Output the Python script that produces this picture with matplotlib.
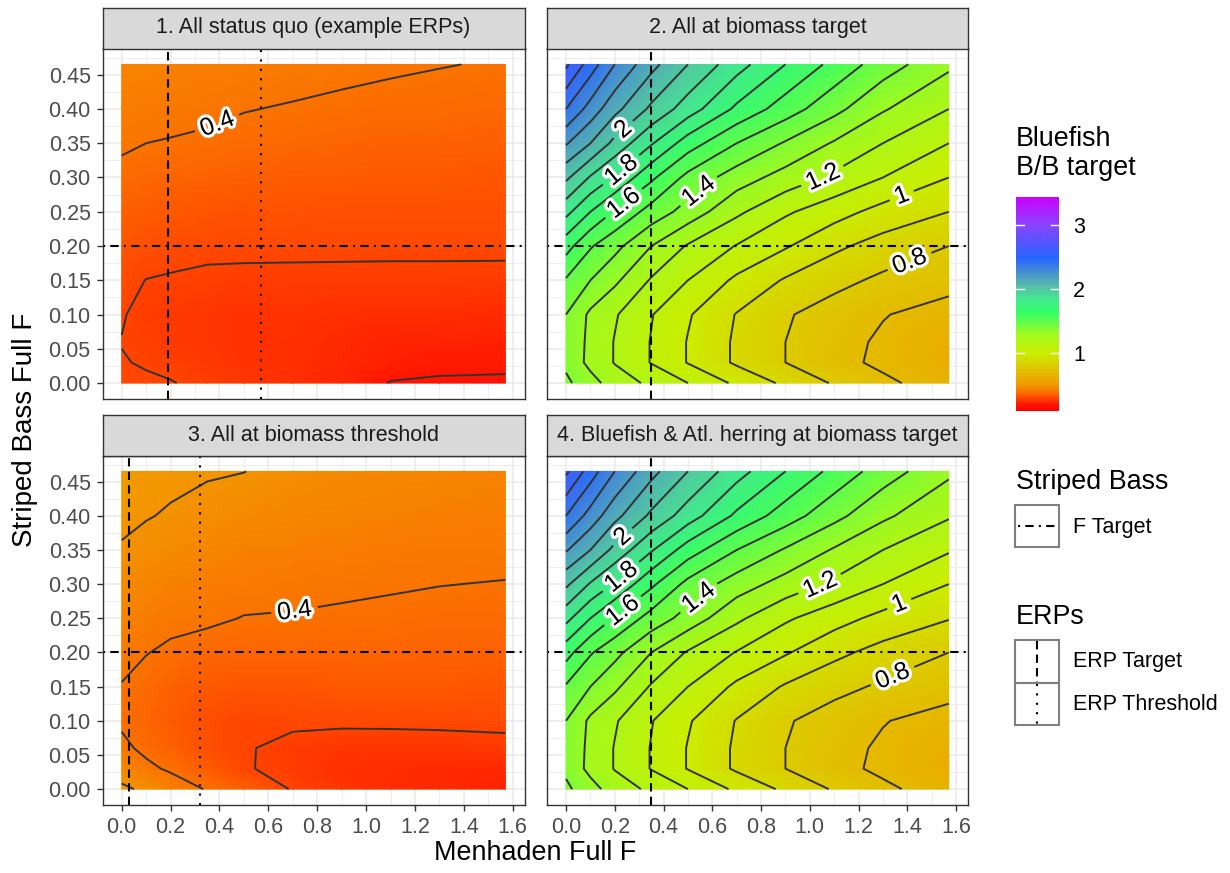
import numpy as np
import matplotlib
matplotlib.use("Agg")
import matplotlib.pyplot as plt
import matplotlib.colors as mcolors
import matplotlib.patheffects as pe
from matplotlib.ticker import MultipleLocator, FormatStrFormatter
from matplotlib.patches import Rectangle
from matplotlib.cm import ScalarMappable

plt.rcParams["font.family"] = ["Liberation Sans", "DejaVu Sans"]

# ===== data =====
MENHADEN_F = [0.0, 0.1, 0.2, 0.35, 0.5, 0.7, 0.9, 1.1, 1.3, 1.57]
STRIPED_BASS_F = [0.0, 0.03, 0.06, 0.1, 0.15, 0.2, 0.25, 0.3, 0.35, 0.4, 0.465]

PANEL_TITLES = [
    "1. All status quo (example ERPs)",
    "2. All at biomass target",
    "3. All at biomass threshold",
    "4. Bluefish & Atl. herring at biomass target",
]

# Bluefish B/B target, one row per striped bass F, one column per menhaden F
bb_status_quo = [
    [0.310, 0.305, 0.302, 0.290, 0.275, 0.260, 0.238, 0.197, 0.192, 0.190],
    [0.302, 0.297, 0.290, 0.280, 0.268, 0.256, 0.240, 0.225, 0.215, 0.213],
    [0.299, 0.290, 0.280, 0.272, 0.264, 0.256, 0.245, 0.235, 0.230, 0.228],
    [0.303, 0.288, 0.278, 0.272, 0.268, 0.264, 0.258, 0.254, 0.250, 0.248],
    [0.318, 0.299, 0.295, 0.290, 0.288, 0.287, 0.286, 0.285, 0.285, 0.284],
    [0.335, 0.325, 0.318, 0.312, 0.312, 0.312, 0.312, 0.312, 0.312, 0.312],
    [0.355, 0.350, 0.343, 0.337, 0.333, 0.330, 0.327, 0.325, 0.323, 0.321],
    [0.382, 0.375, 0.368, 0.362, 0.357, 0.352, 0.348, 0.345, 0.343, 0.340],
    [0.410, 0.400, 0.397, 0.392, 0.384, 0.375, 0.370, 0.366, 0.362, 0.358],
    [0.430, 0.420, 0.415, 0.410, 0.402, 0.396, 0.390, 0.385, 0.381, 0.377],
    [0.450, 0.445, 0.440, 0.433, 0.427, 0.420, 0.413, 0.407, 0.402, 0.396],
]
bb_all_target = [
    [1.42, 1.34, 1.25, 1.18, 1.10, 0.98, 0.88, 0.79, 0.72, 0.65],
    [1.38, 1.27, 1.195, 1.095, 0.995, 0.885, 0.80, 0.73, 0.68, 0.62],
    [1.38, 1.275, 1.195, 1.095, 0.995, 0.885, 0.80, 0.735, 0.685, 0.625],
    [1.40, 1.28, 1.21, 1.105, 1.01, 0.895, 0.81, 0.755, 0.705, 0.66],
    [1.49, 1.40, 1.32, 1.19, 1.10, 0.98, 0.89, 0.83, 0.78, 0.735],
    [1.64, 1.51, 1.43, 1.30, 1.19, 1.095, 1.01, 0.92, 0.86, 0.80],
    [1.83, 1.70, 1.59, 1.46, 1.36, 1.22, 1.115, 1.04, 0.965, 0.90],
    [2.02, 1.89, 1.79, 1.62, 1.47, 1.35, 1.26, 1.18, 1.10, 1.00],
    [2.21, 2.10, 1.97, 1.81, 1.65, 1.50, 1.39, 1.29, 1.20, 1.10],
    [2.40, 2.26, 2.13, 1.98, 1.85, 1.68, 1.55, 1.43, 1.31, 1.20],
    [2.62, 2.45, 2.30, 2.13, 2.00, 1.84, 1.70, 1.57, 1.45, 1.32],
]
bb_all_threshold = [
    [0.515, 0.485, 0.440, 0.395, 0.355, 0.295, 0.270, 0.255, 0.245, 0.235],
    [0.460, 0.415, 0.390, 0.350, 0.305, 0.283, 0.260, 0.250, 0.245, 0.240],
    [0.415, 0.385, 0.360, 0.325, 0.305, 0.285, 0.275, 0.272, 0.275, 0.278],
    [0.390, 0.370, 0.350, 0.322, 0.305, 0.310, 0.310, 0.312, 0.313, 0.318],
    [0.397, 0.380, 0.365, 0.345, 0.335, 0.340, 0.342, 0.342, 0.341, 0.340],
    [0.420, 0.402, 0.390, 0.376, 0.368, 0.370, 0.370, 0.368, 0.366, 0.364],
    [0.445, 0.430, 0.415, 0.410, 0.398, 0.396, 0.392, 0.389, 0.386, 0.383],
    [0.470, 0.455, 0.440, 0.428, 0.420, 0.415, 0.410, 0.405, 0.401, 0.398],
    [0.494, 0.483, 0.472, 0.452, 0.442, 0.435, 0.428, 0.422, 0.418, 0.414],
    [0.515, 0.503, 0.495, 0.483, 0.465, 0.455, 0.447, 0.440, 0.435, 0.430],
    [0.535, 0.520, 0.512, 0.505, 0.501, 0.480, 0.470, 0.462, 0.455, 0.450],
]
bb_bluefish_herring = [
    [1.42, 1.34, 1.25, 1.18, 1.10, 0.98, 0.88, 0.79, 0.72, 0.65],
    [1.38, 1.27, 1.195, 1.095, 0.995, 0.885, 0.80, 0.73, 0.68, 0.62],
    [1.38, 1.275, 1.195, 1.095, 0.995, 0.885, 0.80, 0.735, 0.685, 0.625],
    [1.40, 1.28, 1.21, 1.105, 1.01, 0.895, 0.81, 0.755, 0.705, 0.66],
    [1.49, 1.40, 1.32, 1.19, 1.10, 0.98, 0.89, 0.83, 0.785, 0.74],
    [1.64, 1.51, 1.43, 1.30, 1.19, 1.095, 1.01, 0.925, 0.865, 0.80],
    [1.83, 1.70, 1.59, 1.46, 1.36, 1.22, 1.115, 1.04, 0.97, 0.905],
    [2.02, 1.89, 1.79, 1.62, 1.47, 1.35, 1.26, 1.18, 1.10, 1.00],
    [2.21, 2.10, 1.97, 1.81, 1.65, 1.50, 1.39, 1.29, 1.20, 1.11],
    [2.40, 2.26, 2.13, 1.98, 1.85, 1.68, 1.55, 1.43, 1.32, 1.21],
    [2.62, 2.45, 2.30, 2.13, 2.00, 1.84, 1.70, 1.57, 1.45, 1.32],
]
PANEL_DATA = [bb_status_quo, bb_all_target, bb_all_threshold, bb_bluefish_herring]

# reference lines per panel
ERP_TARGET_F = [0.19, 0.35, 0.03, 0.35]
ERP_THRESHOLD_F = [0.57, None, 0.32, None]
SB_F_TARGET = 0.20

# contour labels per panel: (level, approx position)
LABELS = [
    [(0.4, (0.395, 0.375))],
    [(2.0, (0.235, 0.37)), (1.8, (0.228, 0.31)), (1.6, (0.235, 0.263)), (1.4, (0.55, 0.277)),
     (1.2, (1.04, 0.31)), (1.0, (1.37, 0.28)), (0.8, (1.41, 0.177))],
    [(0.4, (0.71, 0.255))],
    [(2.0, (0.235, 0.368)), (1.8, (0.228, 0.31)), (1.6, (0.235, 0.26)), (1.4, (0.55, 0.277)),
     (1.2, (1.03, 0.31)), (1.0, (1.36, 0.277)), (0.8, (1.34, 0.165))],
]
LEVELS = [round(0.1 * i, 1) for i in range(1, 35)]

# fill scale: limits and colour stops (value, colour) as seen on the colour bar
FILL_LIMITS = (0.106, 3.44)
FILL_STOPS = [
    (0.106, "#FF0000"), (0.20, "#FF1500"), (0.30, "#FF4500"), (0.40, "#FA7500"),
    (0.50, "#F39500"), (0.62, "#EAAE00"), (0.80, "#DDCB00"), (1.00, "#CCEE00"),
    (1.30, "#A0FA20"), (1.63, "#33FF66"), (1.85, "#44E890"), (2.05, "#58BBA8"),
    (2.30, "#4488D8"), (2.48, "#2466FF"), (3.00, "#8844FF"), (3.44, "#CC00FF"),
]
lo, hi = FILL_LIMITS
cmap = mcolors.LinearSegmentedColormap.from_list(
    "bluefish", [((v - lo) / (hi - lo), c) for v, c in FILL_STOPS], N=512)
norm = mcolors.Normalize(lo, hi)

# ===== figure layout (pixel boxes) =====
W, H = 1230, 873
fig = plt.figure(figsize=(W / 100, H / 100), dpi=100)


def px_axes(l, t, r, b):
    return fig.add_axes([l / W, 1 - b / H, (r - l) / W, (b - t) / H])


PANEL_BOX = [(102.5, 48.5, 524.6, 399), (546.9, 48.5, 967.9, 399),
             (102.5, 455.5, 524.6, 805), (546.9, 455.5, 967.9, 805)]
STRIP_H = 41
GRID_COL = "#EBEBEB"
DARK = "#333333"
SMALL = 15.5
BIG = 19.4

XG, YG = np.meshgrid(MENHADEN_F, STRIPED_BASS_F)
xr = max(MENHADEN_F) - min(MENHADEN_F)
yr = max(STRIPED_BASS_F) - min(STRIPED_BASS_F)

line_kw = dict(color="black", lw=1.5, zorder=4)
DASHED = (4, 2.5)
DOTTED = (1, 3.5)
DOTDASH = (1, 2.5, 4, 2.5)
contour_kw = dict(colors="#333333", linewidths=1.4, zorder=2)

for i, (l, t, r, b) in enumerate(PANEL_BOX):
    ax = px_axes(l, t, r, b)
    Z = np.array(PANEL_DATA[i])
    ax.set_xlim(min(MENHADEN_F) - 0.05 * xr, max(MENHADEN_F) + 0.05 * xr)
    ax.set_ylim(min(STRIPED_BASS_F) - 0.05 * yr, max(STRIPED_BASS_F) + 0.05 * yr)
    ax.set_axisbelow(True)
    ax.xaxis.set_major_locator(MultipleLocator(0.2))
    ax.xaxis.set_minor_locator(MultipleLocator(0.1))
    ax.yaxis.set_major_locator(MultipleLocator(0.05))
    ax.yaxis.set_minor_locator(MultipleLocator(0.025))
    ax.xaxis.set_major_formatter(FormatStrFormatter("%.1f"))
    ax.yaxis.set_major_formatter(FormatStrFormatter("%.2f"))
    ax.grid(which="major", color=GRID_COL, lw=1.2)
    ax.grid(which="minor", color=GRID_COL, lw=0.6)
    for sp in ax.spines.values():
        sp.set_color(DARK)
        sp.set_linewidth(1.0)
        sp.set_zorder(6)
    ax.tick_params(which="major", direction="out", length=4.5, width=1, color=DARK,
                   labelcolor="#4D4D4D", labelsize=SMALL, pad=4)
    ax.tick_params(which="minor", length=0)
    if i < 2:
        ax.tick_params(bottom=False, labelbottom=False)
    if i % 2 == 1:
        ax.tick_params(left=False, labelleft=False)

    ax.pcolormesh(XG, YG, Z, shading="gouraud", cmap=cmap, norm=norm, zorder=1)
    lab_levels = sorted({lv for lv, _ in LABELS[i]})
    plain_levels = [lv for lv in LEVELS if lv not in lab_levels]
    ax.contour(XG, YG, Z, levels=plain_levels, **contour_kw)
    cs_lab = ax.contour(XG, YG, Z, levels=lab_levels, **contour_kw)
    texts = cs_lab.clabel(manual=[p for _, p in LABELS[i]], inline=True,
                          inline_spacing=6, fmt="%g", fontsize=18, colors="black", zorder=7)
    for tx in texts:
        tx.set_path_effects([pe.withStroke(linewidth=4.5, foreground="white")])

    ax.axhline(SB_F_TARGET, dashes=DOTDASH, **line_kw)
    ax.axvline(ERP_TARGET_F[i], dashes=DASHED, **line_kw)
    if ERP_THRESHOLD_F[i] is not None:
        ax.axvline(ERP_THRESHOLD_F[i], dashes=DOTTED, **line_kw)

    # facet strip
    sax = px_axes(l, t - STRIP_H, r, t)
    sax.set_facecolor("#D9D9D9")
    sax.set_xticks([])
    sax.set_yticks([])
    for sp in sax.spines.values():
        sp.set_color(DARK)
        sp.set_linewidth(1.0)
    sax.text(0.5, 0.5, PANEL_TITLES[i], ha="center", va="center", fontsize=SMALL,
             color="#1A1A1A", transform=sax.transAxes)

fig.text(535 / W, 1 - 853 / H, "Menhaden Full F", ha="center", va="center", fontsize=BIG)
fig.text(25 / W, 1 - 430 / H, "Striped Bass Full F", ha="center", va="center",
         fontsize=20, rotation=90)

# ===== colour bar legend =====
cax = px_axes(1016, 196.7, 1059, 410.7)
cb = fig.colorbar(ScalarMappable(norm=norm, cmap=cmap), cax=cax, ticks=[1, 2, 3])
cb.outline.set_visible(False)
cax.tick_params(length=0, labelsize=SMALL, pad=10, labelcolor="black")
for v in (1, 2, 3):
    cax.plot([0, 0.18], [v, v], color="white", lw=1, transform=cax.get_yaxis_transform())
    cax.plot([0.82, 1], [v, v], color="white", lw=1, transform=cax.get_yaxis_transform())
fig.text(1016 / W, 1 - 126 / H, "Bluefish\nB/B target", ha="left", va="top", fontsize=BIG,
         linespacing=1.15)

# ===== line legends (pixel overlay) =====
lax = fig.add_axes([0, 0, 1, 1])
lax.set_xlim(0, W)
lax.set_ylim(H, 0)
lax.axis("off")
lax.patch.set_alpha(0)

lax.text(1016, 482, "Striped Bass", ha="left", va="center", fontsize=BIG)
lax.add_patch(Rectangle((1015, 505), 44, 42, fill=False, ec="#7F7F7F", lw=1.5))
lax.plot([1018, 1056], [526, 526], color="black", lw=1.5, dashes=DOTDASH)
lax.text(1073, 527, "F Target", ha="left", va="center", fontsize=SMALL)

lax.text(1016, 617, "ERPs", ha="left", va="center", fontsize=BIG)
lax.add_patch(Rectangle((1015, 640), 44, 43, fill=False, ec="#7F7F7F", lw=1.5))
lax.add_patch(Rectangle((1015, 683), 44, 42, fill=False, ec="#7F7F7F", lw=1.5))
lax.plot([1037, 1037], [641, 682], color="black", lw=1.5, dashes=DASHED)
lax.plot([1037, 1037], [684, 724], color="black", lw=1.5, dashes=DOTTED)
lax.text(1073, 662, "ERP Target", ha="left", va="center", fontsize=SMALL)
lax.text(1073, 705, "ERP Threshold", ha="left", va="center", fontsize=SMALL)

fig.savefig("out.png", dpi=100)
